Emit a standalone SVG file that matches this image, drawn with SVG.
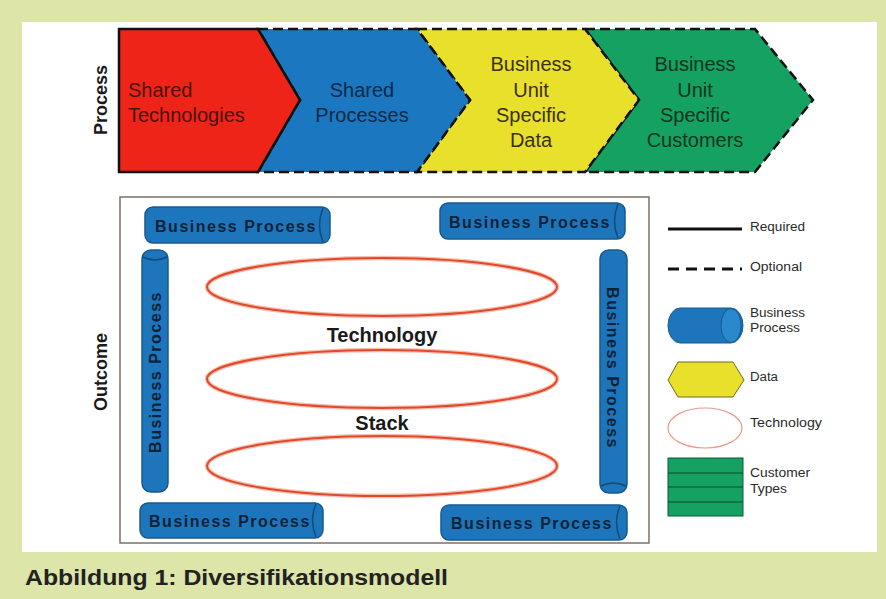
<svg xmlns="http://www.w3.org/2000/svg" width="886" height="599" viewBox="0 0 886 599">
<style>
.chev{stroke:#111;stroke-width:2.5;stroke-linejoin:miter}
.dash{stroke-dasharray:10 5}
.ct{font-family:"Liberation Sans",Arial,sans-serif;font-size:20px;text-anchor:middle}
.lbl{font-family:"Liberation Sans",Arial,sans-serif;font-size:18px;font-weight:bold;fill:#1a1a1a;text-anchor:middle}
.cyl{fill:#1d76bb;stroke:#175a8f;stroke-width:1.5}
.cap{fill:none;stroke:#124a78;stroke-width:1.5}
.bp{font-family:"Liberation Sans",Arial,sans-serif;font-size:16px;font-weight:bold;fill:#0e2238;text-anchor:middle;letter-spacing:1.5px}
.tech{fill:none;stroke:#e2492c;stroke-width:2}
.glow{fill:none;stroke:#f6c0b0;stroke-width:4.5}
.big{font-family:"Liberation Sans",Arial,sans-serif;font-size:20px;font-weight:bold;fill:#1a1a1a;text-anchor:middle}
.lg{font-family:"Liberation Sans",Arial,sans-serif;font-size:12px;fill:#2a2a2a}
</style>
<rect x="0" y="0" width="886" height="599" fill="#dde5a9"/>
<rect x="22" y="22" width="855" height="530" fill="#ffffff"/>

<g id="process-label"><text class="lbl" transform="translate(107,100) rotate(-90)">Process</text></g>
<g id="outcome-label"><text class="lbl" transform="translate(107,372) rotate(-90)">Outcome</text></g>

<g id="chevron-green">
<polygon class="chev dash" fill="#14a161" points="585,29 755,29 813,100 755,172 585,172 639,100"/>
<text class="ct" fill="#0d3420" x="695" y="71">Business</text>
<text class="ct" fill="#0d3420" x="695" y="97">Unit</text>
<text class="ct" fill="#0d3420" x="695" y="122">Specific</text>
<text class="ct" fill="#0d3420" x="695" y="147">Customers</text>
</g>
<g id="chevron-yellow">
<polygon class="chev dash" fill="#e9e02c" points="417,29 585,29 639,100 585,172 417,172 470,100"/>
<text class="ct" fill="#3a3010" x="531" y="71">Business</text>
<text class="ct" fill="#3a3010" x="531" y="97">Unit</text>
<text class="ct" fill="#3a3010" x="531" y="122">Specific</text>
<text class="ct" fill="#3a3010" x="531" y="147">Data</text>
</g>
<g id="chevron-blue">
<polygon class="chev dash" fill="#1b77bf" points="258,29 417,29 470,100 417,172 258,172 300,100"/>
<text class="ct" fill="#0e2a48" x="362" y="97">Shared</text>
<text class="ct" fill="#0e2a48" x="362" y="122">Processes</text>
</g>
<g id="chevron-red">
<polygon class="chev" fill="#ee2418" points="119,29 258,29 300,100 258,172 119,172"/>
<text class="ct" fill="#4a1208" x="128" y="97" style="text-anchor:start">Shared</text>
<text class="ct" fill="#4a1208" x="128" y="122" style="text-anchor:start">Technologies</text>
</g>

<g id="outcome-box"><rect x="120" y="197" width="529" height="346" fill="none" stroke="#7a706a" stroke-width="1.5"/></g>

<g id="bp-top-left">
<rect class="cyl" x="145" y="207" width="185" height="36" rx="8"/>
<path class="cap" d="M323,208 Q316,225 323,242"/>
<text class="bp" x="236" y="232">Business Process</text>
</g>
<g id="bp-top-right">
<rect class="cyl" x="440" y="203" width="185" height="36" rx="8"/>
<path class="cap" d="M618,204 Q611,221 618,238"/>
<text class="bp" x="530" y="228">Business Process</text>
</g>
<g id="bp-bottom-left">
<rect class="cyl" x="140" y="503" width="183" height="35" rx="8"/>
<path class="cap" d="M316,504 Q309,520 316,537"/>
<text class="bp" x="230" y="527">Business Process</text>
</g>
<g id="bp-bottom-right">
<rect class="cyl" x="441" y="505" width="186" height="35" rx="8"/>
<path class="cap" d="M620,506 Q613,522 620,539"/>
<text class="bp" x="532" y="529">Business Process</text>
</g>
<g id="bp-left">
<rect class="cyl" x="142" y="250" width="26" height="242" rx="9"/>
<path class="cap" d="M143,257 Q155,263 167,257"/>
<text class="bp" transform="translate(161,372) rotate(-90)">Business Process</text>
</g>
<g id="bp-right">
<rect class="cyl" x="600" y="250" width="27" height="243" rx="9"/>
<path class="cap" d="M601,486 Q613,480 626,486"/>
<text class="bp" transform="translate(607,368) rotate(90)">Business Process</text>
</g>

<g id="technology-stack">
<ellipse class="glow" cx="382" cy="287" rx="175" ry="29"/>
<ellipse class="tech" cx="382" cy="287" rx="175" ry="29"/>
<ellipse class="glow" cx="382" cy="379" rx="175" ry="29"/>
<ellipse class="tech" cx="382" cy="379" rx="175" ry="29"/>
<ellipse class="glow" cx="382" cy="466" rx="175" ry="30"/>
<ellipse class="tech" cx="382" cy="466" rx="175" ry="30"/>
<text class="big" x="382" y="342">Technology</text>
<text class="big" x="382" y="430">Stack</text>
</g>

<g id="legend">
<line x1="668" y1="229" x2="742" y2="229" stroke="#111" stroke-width="3"/>
<text class="lg" x="750" y="231" textLength="55" lengthAdjust="spacingAndGlyphs">Required</text>
<line x1="668" y1="269" x2="742" y2="269" stroke="#111" stroke-width="3" stroke-dasharray="11 7"/>
<text class="lg" x="750" y="271" textLength="52" lengthAdjust="spacingAndGlyphs">Optional</text>
<path d="M680,308 L731,308 A12,17.5 0 0 1 731,343 L680,343 A12,17.5 0 0 1 680,308 Z" fill="#1d76bb" stroke="#175a8f" stroke-width="1"/>
<ellipse cx="731" cy="325.5" rx="10" ry="17" fill="#2a88cc" stroke="#175a8f" stroke-width="1"/>
<text class="lg" x="750" y="317" textLength="55" lengthAdjust="spacingAndGlyphs">Business</text>
<text class="lg" x="750" y="332" textLength="50" lengthAdjust="spacingAndGlyphs">Process</text>
<polygon points="668,380 678,362 733,362 744,380 733,397 678,397" fill="#e9e02c" stroke="#6e6a20" stroke-width="1"/>
<text class="lg" x="750" y="381" textLength="28" lengthAdjust="spacingAndGlyphs">Data</text>
<ellipse cx="705" cy="428" rx="37" ry="20" fill="#fff" stroke="#e89a88" stroke-width="1.2"/>
<text class="lg" x="750" y="427" textLength="72" lengthAdjust="spacingAndGlyphs">Technology</text>
<rect x="668" y="458" width="75" height="58" fill="#14a161" stroke="#0c5a36" stroke-width="1"/>
<line x1="668" y1="473" x2="743" y2="473" stroke="#0c4a2c" stroke-width="1"/>
<line x1="668" y1="487" x2="743" y2="487" stroke="#0c4a2c" stroke-width="1"/>
<line x1="668" y1="502" x2="743" y2="502" stroke="#0c4a2c" stroke-width="1"/>
<text class="lg" x="750" y="477" textLength="60" lengthAdjust="spacingAndGlyphs">Customer</text>
<text class="lg" x="750" y="493" textLength="37" lengthAdjust="spacingAndGlyphs">Types</text>
</g>

<g id="caption"><text x="25" y="585" font-family="Liberation Sans, Arial, sans-serif" font-size="22" font-weight="bold" fill="#222" textLength="423" lengthAdjust="spacingAndGlyphs">Abbildung 1: Diversifikationsmodell</text></g>
</svg>
